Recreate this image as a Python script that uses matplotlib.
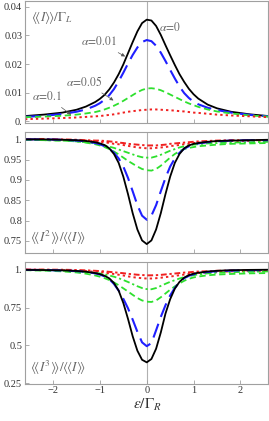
import numpy as np
import matplotlib
matplotlib.use("Agg")
import matplotlib.pyplot as plt

plt.rcParams['font.family'] = ['Liberation Serif', 'DejaVu Serif']
plt.rcParams['mathtext.fontset'] = 'stix'

# detuning grid eps/Gamma_R
eps = [-2.6, -2.2, -1.8, -1.5, -1.3, -1.1, -1.0, -0.9, -0.8, -0.7, -0.6, -0.5, -0.4, -0.3, -0.2, -0.1,
       0.0,
       0.1, 0.2, 0.3, 0.4, 0.5, 0.6, 0.7, 0.8, 0.9, 1.0, 1.1, 1.3, 1.5, 1.8, 2.2, 2.6]

# <<I>>/Gamma_L
cur_a0 = [0.0019, 0.0024, 0.0031, 0.0041, 0.0052, 0.0068, 0.0079, 0.0093, 0.0112, 0.0136, 0.0165, 0.0199,
          0.0238, 0.0277, 0.0314, 0.0343,
          0.0355,
          0.0352, 0.0333, 0.0302, 0.0266, 0.0231, 0.0197, 0.0165, 0.0138, 0.0114, 0.0095, 0.0080, 0.0059,
          0.0046, 0.0034, 0.0025, 0.0019]
cur_a001 = [0.0016, 0.0020, 0.0026, 0.0034, 0.0042, 0.0055, 0.0064, 0.0076, 0.0092, 0.0113, 0.0140, 0.0170,
            0.0202, 0.0232, 0.0258, 0.0277,
            0.0284,
            0.0280, 0.0264, 0.0240, 0.0211, 0.0180, 0.0150, 0.0122, 0.0099, 0.0082, 0.0069, 0.0060, 0.0048,
            0.0040, 0.0031, 0.0023, 0.0018]
cur_a005 = [0.0015, 0.0017, 0.0020, 0.0024, 0.0028, 0.0033, 0.0037, 0.0042, 0.0048, 0.0055, 0.0063, 0.0072,
            0.0082, 0.0092, 0.0102, 0.0110,
            0.0115,
            0.0116, 0.0114, 0.0109, 0.0102, 0.0094, 0.0086, 0.0078, 0.0070, 0.0063, 0.0057, 0.0051, 0.0042,
            0.0035, 0.0028, 0.0021, 0.0017]
cur_a01 = [0.0008, 0.0010, 0.0012, 0.0014, 0.0016, 0.0018, 0.0019, 0.0021, 0.0023, 0.0025, 0.0028, 0.0031,
           0.0034, 0.0036, 0.0038, 0.0040,
           0.0041,
           0.0042, 0.0042, 0.0041, 0.0040, 0.0039, 0.0038, 0.0036, 0.0035, 0.0033, 0.0031, 0.0030, 0.0027,
           0.0024, 0.0021, 0.0018, 0.0015]

# <<I^2>>/<<I>>
f2_black = [1.000, 1.000, 0.999, 0.998, 0.996, 0.993, 0.990, 0.986, 0.978, 0.964, 0.942, 0.908,
            0.865, 0.818, 0.778, 0.751,
            0.742,
            0.751, 0.778, 0.818, 0.865, 0.908, 0.942, 0.964, 0.978, 0.985, 0.989, 0.991, 0.994,
            0.996, 0.997, 0.998, 0.999]
f2_blue = [1.000, 1.000, 0.999, 0.997, 0.995, 0.991, 0.988, 0.983, 0.977, 0.967, 0.953, 0.933,
           0.905, 0.872, 0.838, 0.812,
           0.802,
           0.812, 0.838, 0.872, 0.905, 0.933, 0.953, 0.967, 0.977, 0.983, 0.987, 0.990, 0.993,
           0.995, 0.997, 0.998, 0.998]
f2_green_d = [0.999, 0.998, 0.997, 0.995, 0.992, 0.988, 0.985, 0.981, 0.976, 0.970, 0.963, 0.955,
              0.947, 0.940, 0.933, 0.927,
              0.924,
              0.923, 0.927, 0.935, 0.945, 0.955, 0.964, 0.971, 0.976, 0.979, 0.981, 0.983, 0.985,
              0.987, 0.989, 0.990, 0.991]
f2_green_dd = [0.999, 0.998, 0.997, 0.995, 0.993, 0.990, 0.988, 0.985, 0.982, 0.979, 0.975, 0.971,
               0.967, 0.963, 0.959, 0.956,
               0.955,
               0.955, 0.958, 0.962, 0.967, 0.972, 0.976, 0.980, 0.983, 0.985, 0.987, 0.988, 0.990,
               0.991, 0.992, 0.993, 0.994]
f2_red_dot = [1.000, 1.000, 0.999, 0.998, 0.997, 0.995, 0.994, 0.993, 0.991, 0.989, 0.988, 0.986,
              0.984, 0.982, 0.980, 0.979,
              0.978,
              0.978, 0.979, 0.980, 0.981, 0.983, 0.985, 0.986, 0.988, 0.989, 0.991, 0.992, 0.993,
              0.995, 0.996, 0.996, 0.997]
f2_red_dd = [1.001, 1.001, 1.000, 0.999, 0.998, 0.997, 0.997, 0.996, 0.995, 0.994, 0.992, 0.991,
             0.989, 0.988, 0.987, 0.986,
             0.985,
             0.985, 0.985, 0.986, 0.987, 0.989, 0.990, 0.991, 0.992, 0.993, 0.994, 0.995, 0.996,
             0.997, 0.998, 0.998, 0.998]

# <<I^3>>/<<I>>
f3_black = [0.999, 0.998, 0.996, 0.992, 0.987, 0.978, 0.971, 0.960, 0.943, 0.912, 0.862, 0.780,
            0.675, 0.560, 0.465, 0.405,
            0.388,
            0.410, 0.478, 0.585, 0.710, 0.805, 0.875, 0.920, 0.948, 0.964, 0.974, 0.980, 0.988,
            0.993, 0.997, 0.999, 1.000]
f3_blue = [0.999, 0.998, 0.995, 0.991, 0.986, 0.976, 0.968, 0.956, 0.938, 0.906, 0.862, 0.808,
           0.745, 0.670, 0.590, 0.520,
           0.495,
           0.515, 0.600, 0.688, 0.765, 0.830, 0.880, 0.918, 0.944, 0.960, 0.970, 0.977, 0.985,
           0.990, 0.994, 0.997, 0.998]
f3_green_d = [0.997, 0.994, 0.989, 0.982, 0.974, 0.962, 0.954, 0.944, 0.932, 0.916, 0.898, 0.877,
              0.856, 0.834, 0.813, 0.797,
              0.789,
              0.787, 0.797, 0.818, 0.843, 0.868, 0.890, 0.910, 0.927, 0.940, 0.949, 0.955, 0.963,
              0.968, 0.972, 0.976, 0.978]
f3_green_dd = [0.998, 0.996, 0.993, 0.989, 0.985, 0.979, 0.975, 0.969, 0.962, 0.954, 0.944, 0.932,
               0.919, 0.905, 0.891, 0.879,
               0.872,
               0.871, 0.879, 0.893, 0.907, 0.920, 0.931, 0.942, 0.951, 0.958, 0.964, 0.969, 0.976,
               0.980, 0.984, 0.987, 0.989]
f3_red_dot = [1.000, 0.999, 0.997, 0.994, 0.991, 0.986, 0.984, 0.980, 0.976, 0.972, 0.967, 0.962,
              0.956, 0.951, 0.947, 0.944,
              0.942,
              0.942, 0.944, 0.947, 0.951, 0.955, 0.959, 0.964, 0.968, 0.972, 0.975, 0.978, 0.982,
              0.986, 0.989, 0.991, 0.993]
f3_red_dd = [1.002, 1.001, 1.000, 0.998, 0.996, 0.993, 0.991, 0.989, 0.986, 0.983, 0.980, 0.977,
             0.973, 0.970, 0.967, 0.965,
             0.963,
             0.963, 0.964, 0.966, 0.969, 0.972, 0.975, 0.978, 0.981, 0.983, 0.986, 0.988, 0.990,
             0.993, 0.995, 0.996, 0.997]

BLACK = 'black'
BLUE = '#1f1fff'
GREEN = '#2ee02e'
RED = '#f02020'
FRAME = '#a0a0a0'
TXT = '#333333'

styles = {
    'black': dict(color=BLACK, lw=1.3, ls='-', solid_joinstyle='round'),
    'blue': dict(color=BLUE, lw=1.5, dashes=(7, 3.5)),
    'green_d': dict(color=GREEN, lw=1.3, dashes=(3.5, 2)),
    'green_dd': dict(color=GREEN, lw=1.3, dashes=(3.5, 1.6, 1.2, 1.6)),
    'red_dot': dict(color=RED, lw=1.4, dashes=(1.2, 1.6)),
    'red_dd': dict(color=RED, lw=1.4, dashes=(3, 1.4, 1.2, 1.4)),
}

fig = plt.figure(figsize=(2.69, 4.21), dpi=100)
left, width = 0.093, 0.905
ax1 = fig.add_axes([left, 0.708, width, 0.2896])
ax2 = fig.add_axes([left, 0.400, width, 0.287])
ax3 = fig.add_axes([left, 0.089, width, 0.289])

def style_axis(ax):
    for s in ax.spines.values():
        s.set_color(FRAME)
        s.set_linewidth(0.8)
    ax.tick_params(which='major', direction='in', color=FRAME, labelcolor=TXT,
                   labelsize=7.5, length=3, width=0.6, pad=2)
    ax.set_xlim(-2.6, 2.6)
    ax.set_xticks([-2, -1, 0, 1, 2])
    ax.axvline(0, color='#b0b0b0', lw=0.8, zorder=0)

for ax in (ax1, ax2, ax3):
    style_axis(ax)

# panel 1
ax1.plot(eps, cur_a0, **styles['black'])
ax1.plot(eps, cur_a001, **styles['blue'])
ax1.plot(eps, cur_a005, **styles['green_d'])
ax1.plot(eps, cur_a01, **styles['red_dot'])
ax1.set_ylim(-0.0005, 0.042)
ax1.set_yticks([0, 0.01, 0.02, 0.03, 0.04])
ax1.set_yticklabels(['0.', '0.01', '0.02', '0.03', '0.04'])
ax1.set_xticklabels([])
ax1.text(0.025, 0.935, r'$\langle\!\langle I\rangle\!\rangle/\Gamma_L$', transform=ax1.transAxes,
         color='#666666', fontsize=9.5, va='top', ha='left')
ax1.text(0.27, 0.0328, r'$\alpha\!=\!0$', color='#666666', fontsize=8.3, va='center')
ann = dict(color='#666666', fontsize=8.3,
           arrowprops=dict(arrowstyle='-|>', color='#555555', lw=0.5, mutation_scale=5))
ax1.annotate(r'$\alpha\!=\!0.01$', xy=(-0.41, 0.0222), xytext=(-1.4, 0.0265), **ann)
ax1.annotate(r'$\alpha\!=\!0.05$', xy=(-0.66, 0.0068), xytext=(-1.72, 0.0125), **ann)
ax1.annotate(r'$\alpha\!=\!0.1$', xy=(-1.57, 0.0018), xytext=(-2.45, 0.0075), **ann)

# panel 2
ax2.plot(eps, f2_red_dd, **styles['red_dd'])
ax2.plot(eps, f2_red_dot, **styles['red_dot'])
ax2.plot(eps, f2_green_dd, **styles['green_dd'])
ax2.plot(eps, f2_green_d, **styles['green_d'])
ax2.plot(eps, f2_blue, **styles['blue'])
ax2.plot(eps, f2_black, **styles['black'])
ax2.set_ylim(0.721, 1.0187)
ax2.set_yticks([0.75, 0.8, 0.85, 0.9, 0.95, 1.0])
ax2.set_yticklabels(['0.75', '0.8', '0.85', '0.9', '0.95', '1.'])
ax2.set_xticklabels([])
ax2.text(0.02, 0.05, r'$\langle\!\langle I^2\rangle\!\rangle/\langle\!\langle I\rangle\!\rangle$',
         transform=ax2.transAxes, color='#666666', fontsize=9.5, va='bottom', ha='left')

# panel 3
ax3.plot(eps, f3_red_dd, **styles['red_dd'])
ax3.plot(eps, f3_red_dot, **styles['red_dot'])
ax3.plot(eps, f3_green_dd, **styles['green_dd'])
ax3.plot(eps, f3_green_d, **styles['green_d'])
ax3.plot(eps, f3_blue, **styles['blue'])
ax3.plot(eps, f3_black, **styles['black'])
ax3.set_ylim(0.248, 1.052)
ax3.set_yticks([0.25, 0.5, 0.75, 1.0])
ax3.set_yticklabels(['0.25', '0.5', '0.75', '1.'])
ax3.set_xticklabels(['\u22122', '\u22121', '0', '1', '2'])
ax3.text(0.02, 0.05, r'$\langle\!\langle I^3\rangle\!\rangle/\langle\!\langle I\rangle\!\rangle$',
         transform=ax3.transAxes, color='#666666', fontsize=9.5, va='bottom', ha='left')
ax3.set_xlabel(r'$\varepsilon/\Gamma_R$', fontsize=11, color=TXT, labelpad=1)

fig.savefig('out.png', dpi=100)
